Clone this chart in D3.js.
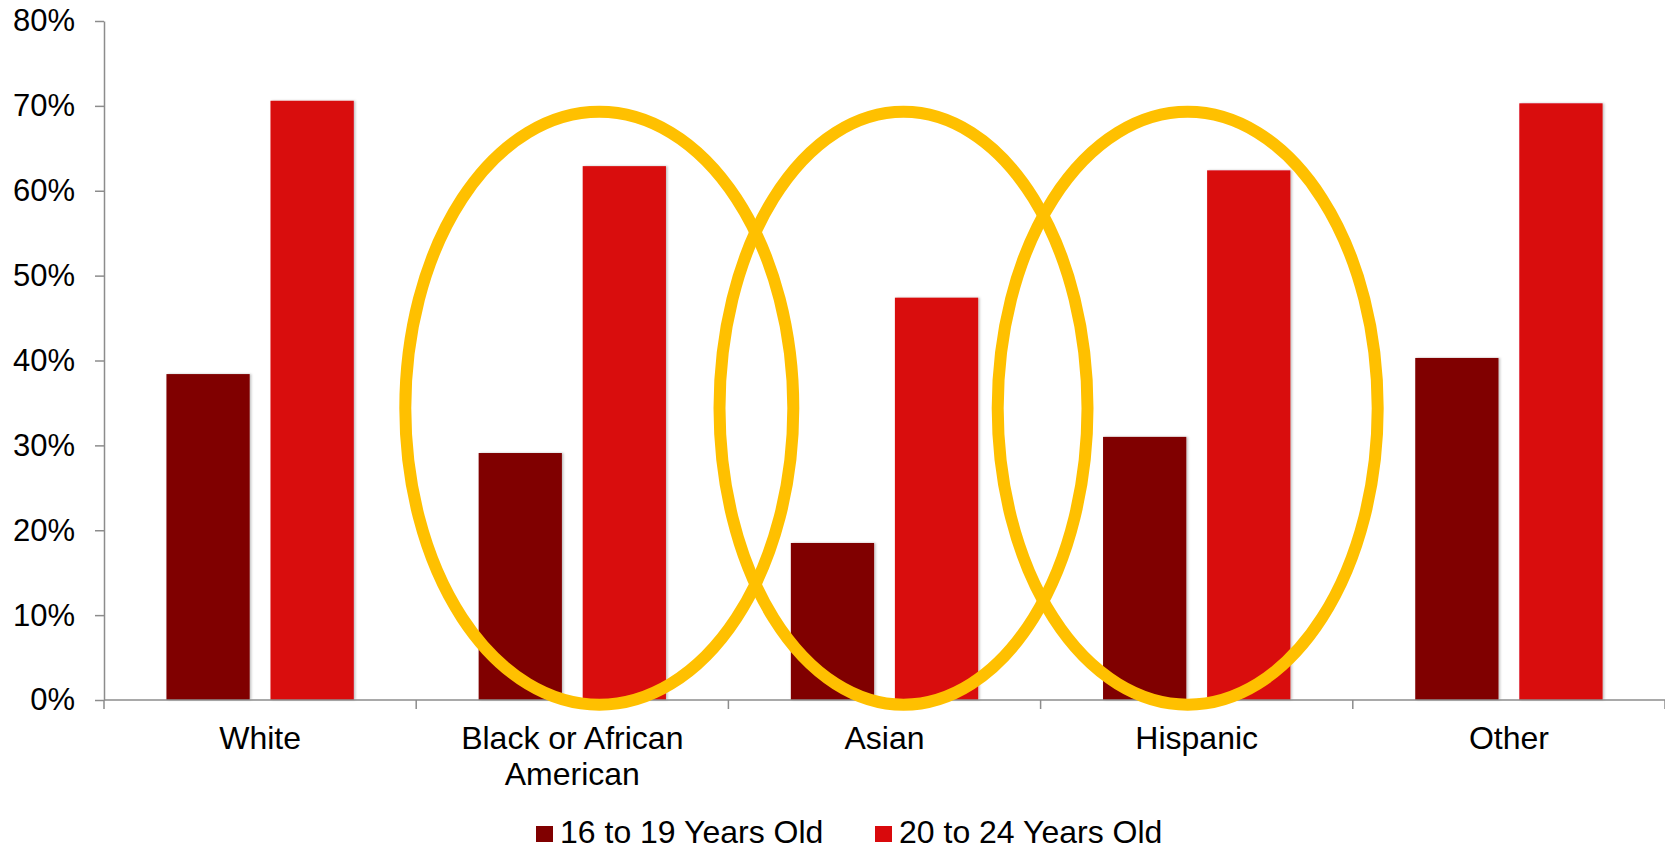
<!DOCTYPE html>
<html>
<head>
<meta charset="utf-8">
<script src="https://cdn.jsdelivr.net/npm/d3@7"></script>
<style>
  html, body { margin: 0; padding: 0; background: #fff; }
  svg { display: block; }
  text { font-family: "Liberation Sans", Arial, sans-serif; fill: #000; }
</style>
</head>
<body>
<svg id="chart" width="1665" height="850"></svg>
<script>
// ---- data ----
const categories = ["White", "Black or African American", "Asian", "Hispanic", "Other"];
const categoryLines = [["White"], ["Black or African", "American"], ["Asian"], ["Hispanic"], ["Other"]];
const seriesNames = ["16 to 19 Years Old", "20 to 24 Years Old"];
const teens = [0.384, 0.291, 0.185, 0.310, 0.403];
const young = [0.706, 0.629, 0.474, 0.624, 0.703];
const yTicks = [0, 0.1, 0.2, 0.3, 0.4, 0.5, 0.6, 0.7, 0.8];
// highlighted categories (annotation ellipses)
const highlightCats = ["Black or African American", "Asian", "Hispanic"];
const highlightShift = [27, 19, -9];
const highlightHalfWidth = [194, 184, 190];
const highlightTop = 0.693;
const highlightBottom = -0.0055;

const colors = ["#800000", "#D9090C"];
const ringColor = "#FFC000";

(function () {
  const svg = d3.select("#chart");
  const mLeft = 104, mRight = 1665, mTop = 21, mBottom = 700;

  const x0 = d3.scaleBand().domain(categories).range([mLeft, mRight]).padding(0);
  const bw = x0.bandwidth();
  const x1 = d3.scaleBand().domain(seriesNames).range([0.2 * bw, 0.8 * bw]).paddingInner(0.2).paddingOuter(0);
  const y = d3.scaleLinear().domain([0, 0.8]).range([mBottom, mTop]);

  const defs = svg.append("defs");
  const f = defs.append("filter").attr("id", "shadow").attr("x", "-10%").attr("y", "-5%").attr("width", "120%").attr("height", "110%");
  f.append("feDropShadow").attr("dx", 1.5).attr("dy", 0).attr("stdDeviation", 1.2)
    .attr("flood-color", "#000").attr("flood-opacity", 0.25);

  // bars
  const rows = categories.map((c, i) => ({ cat: c, vals: [teens[i], young[i]] }));
  svg.append("g").selectAll("g.cat").data(rows).join("g")
    .attr("class", "cat")
    .attr("transform", d => `translate(${x0(d.cat)},0)`)
    .selectAll("rect").data(d => d.vals.map((v, k) => ({ v, k })))
    .join("rect")
    .attr("x", d => x1(seriesNames[d.k]))
    .attr("width", x1.bandwidth())
    .attr("y", d => y(d.v))
    .attr("height", d => y(0) - y(d.v))
    .attr("fill", d => colors[d.k])
    .attr("filter", "url(#shadow)");

  // y axis
  const yAxis = svg.append("g").attr("transform", `translate(${mLeft},0)`)
    .call(d3.axisLeft(y).tickValues(yTicks).tickFormat(d3.format(".0%")).tickSize(9).tickPadding(20).tickSizeOuter(0));
  yAxis.select(".domain").attr("stroke", "#8c8c8c").attr("stroke-width", 1.5);
  yAxis.selectAll(".tick line").attr("stroke", "#8c8c8c").attr("stroke-width", 1.5);
  yAxis.selectAll(".tick text").attr("font-size", "31px").attr("font-family", "Liberation Sans, Arial, sans-serif").attr("fill", "#000");

  // x axis
  const xAxis = svg.append("g").attr("transform", `translate(0,${mBottom})`);
  xAxis.append("line").attr("x1", mLeft).attr("x2", mRight).attr("y1", 0).attr("y2", 0)
    .attr("stroke", "#8c8c8c").attr("stroke-width", 1.5);
  const boundaries = categories.map(c => x0(c)).concat([x0(categories[categories.length - 1]) + bw]);
  xAxis.selectAll("line.tk").data(boundaries).join("line").attr("class", "tk")
    .attr("x1", d => d).attr("x2", d => d).attr("y1", 0).attr("y2", 9)
    .attr("stroke", "#8c8c8c").attr("stroke-width", 1.5);
  xAxis.selectAll("text.lbl").data(categories).join("text").attr("class", "lbl")
    .attr("x", d => x0(d) + bw / 2)
    .attr("y", 49)
    .attr("text-anchor", "middle")
    .attr("font-size", "32px")
    .each(function (d, i) {
      const t = d3.select(this);
      categoryLines[i].forEach((line, j) => {
        t.append("tspan").attr("x", x0(d) + bw / 2).attr("dy", j === 0 ? 0 : 36).text(line);
      });
    });

  // annotation ellipses
  const ry = (y(highlightBottom) - y(highlightTop)) / 2;
  const cy = (y(highlightBottom) + y(highlightTop)) / 2;
  svg.append("g").selectAll("ellipse").data(highlightCats).join("ellipse")
    .attr("cx", (d, i) => x0(d) + bw / 2 + highlightShift[i])
    .attr("cy", cy)
    .attr("rx", (d, i) => highlightHalfWidth[i])
    .attr("ry", ry)
    .attr("fill", "none")
    .attr("stroke", ringColor)
    .attr("stroke-width", 12);

  // legend
  const legend = svg.append("g");
  const legendX = [536, 875];
  seriesNames.forEach((s, i) => {
    const lg = legend.append("g").attr("transform", `translate(${legendX[i]},826)`);
    lg.append("rect").attr("width", 17).attr("height", 16).attr("fill", colors[i]);
    lg.append("text").attr("x", 24).attr("y", 17).attr("font-size", "32px").text(s);
  });
})();
</script>
</body>
</html>
